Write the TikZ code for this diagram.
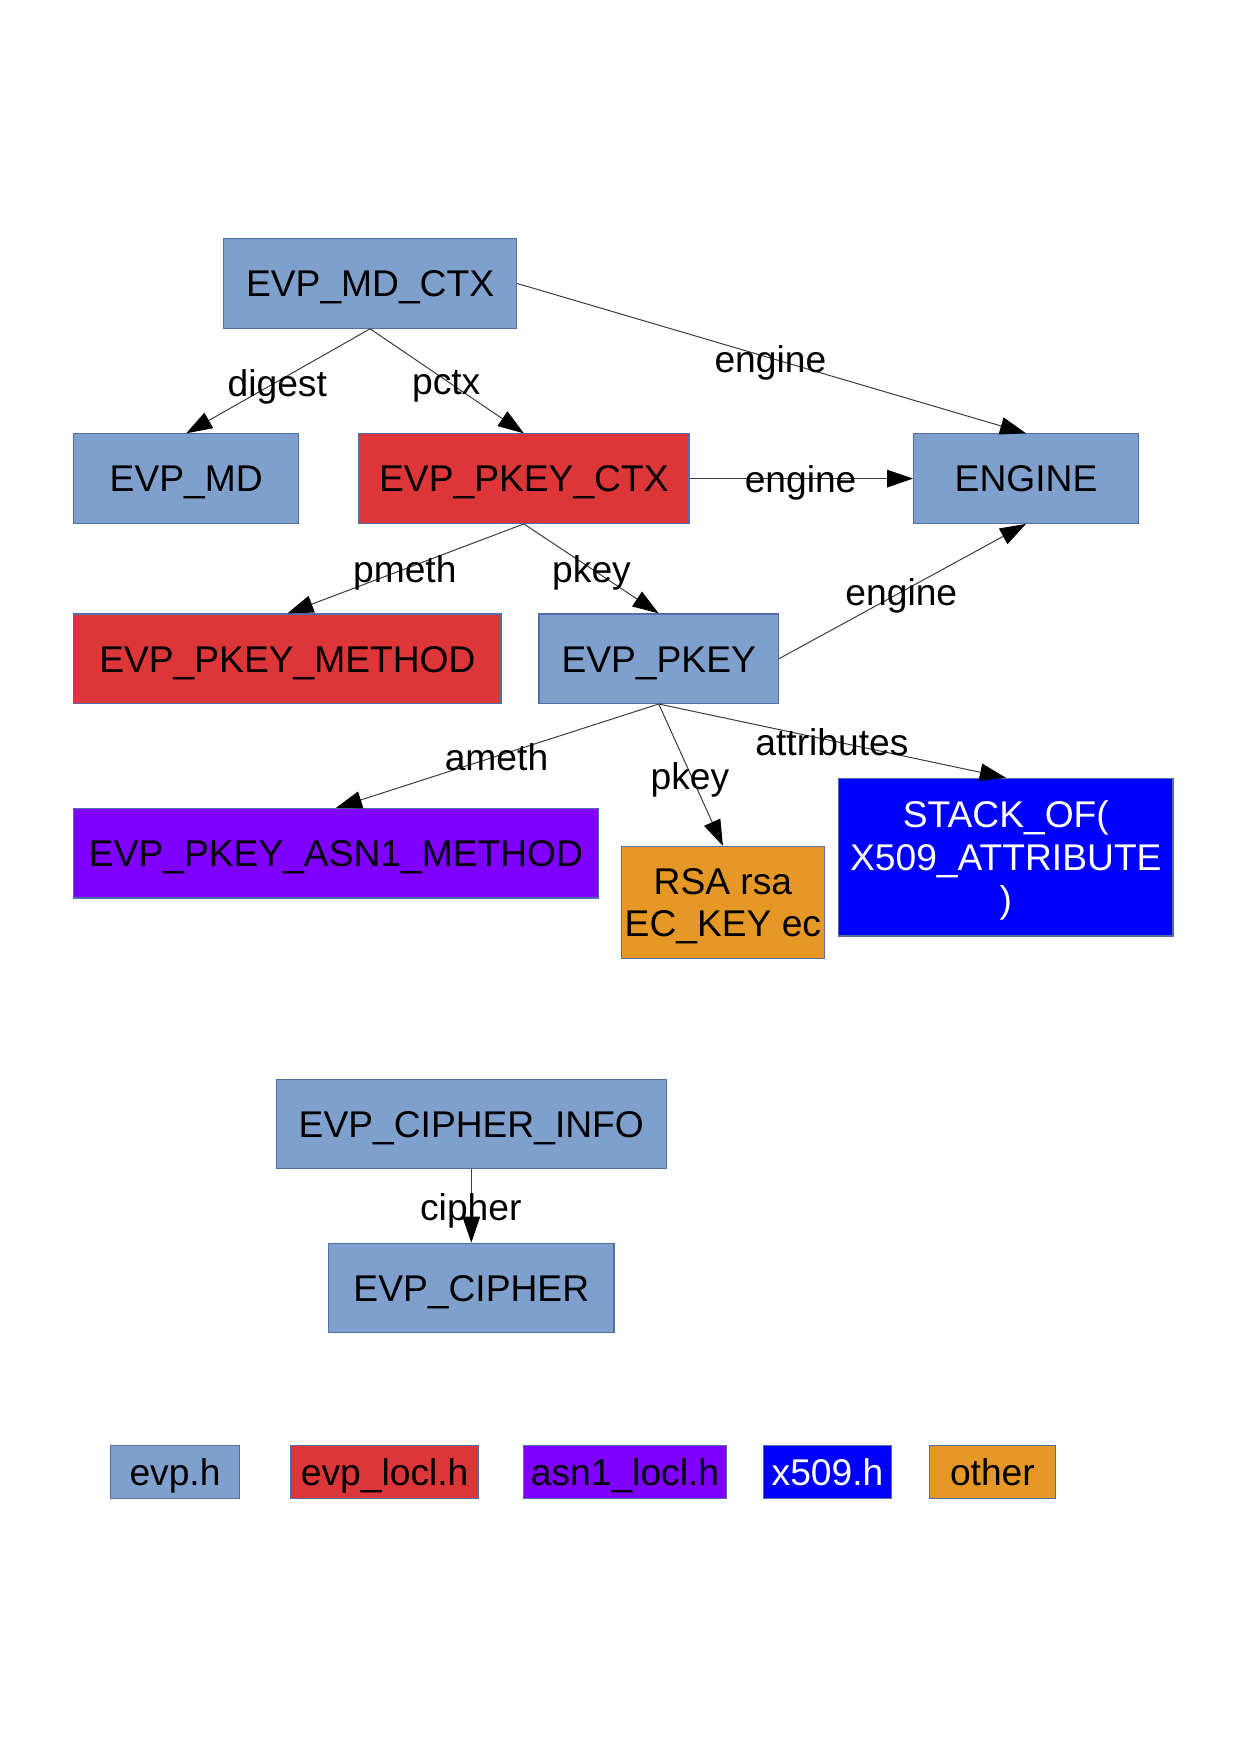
\documentclass[tikz,border=0pt]{standalone}
\usepackage{fontspec}
\setmainfont{Liberation Sans}
\usetikzlibrary{arrows.meta}
\definecolor{cevp}{RGB}{127,159,204}
\definecolor{clocl}{RGB}{220,54,57}
\definecolor{casn}{RGB}{128,0,255}
\definecolor{cx509}{RGB}{0,0,255}
\definecolor{cother}{RGB}{230,152,38}
\definecolor{cborder}{RGB}{82,110,170}
\definecolor{cedge}{RGB}{60,60,60}
\begin{document}
\begin{tikzpicture}[x=0.5pt,y=-0.5pt,
  every node/.style={font=\fontsize{18.6}{21.25}\selectfont, inner sep=0pt},
  box/.style={draw=cborder, line width=0.6pt, align=center, minimum height=44.7pt, text height=13.3pt, text depth=0pt},
  evp/.style={box, fill=cevp},
  locl/.style={box, fill=clocl},
  asn/.style={box, fill=casn},
  xfive/.style={box, fill=cx509, text=white},
  other/.style={box, fill=cother},
  leg/.style={minimum height=26.3pt},
  conn/.style={draw=cedge, line width=0.5pt, -{Triangle[length=13pt,width=8.8pt,color=black]}},
  lbl/.style={anchor=center, yshift=-2pt}
]
\useasboundingbox (0,0) rectangle (1239,1754);

% nodes
\node[evp, minimum width=146.5pt] (mdctx) at (370.1,283.5) {EVP\_MD\_CTX};
\node[evp, minimum width=112.4pt] (md) at (186.2,478.6) {EVP\_MD};
\node[locl, minimum width=165pt] (pctx) at (523.9,478.6) {EVP\_PKEY\_CTX};
\node[evp, minimum width=112.4pt] (engine) at (1026,478.6) {ENGINE};
\node[locl, minimum width=213.6pt] (pmeth) at (287.4,658.7) {EVP\_PKEY\_METHOD};
\node[evp, minimum width=119.7pt] (pkey) at (658.7,658.7) {EVP\_PKEY};
\node[asn, minimum width=262.2pt] (ameth) at (336,853.2) {EVP\_PKEY\_ASN1\_METHOD};
\node[other, minimum width=101.2pt, minimum height=55.9pt, text height=34.55pt] (rsa) at (722.9,902.4) {RSA rsa\\EC\_KEY ec};
\node[xfive, minimum width=167.2pt, minimum height=78.8pt, text height=55.8pt] (stack) at (1005.8,857.1) {STACK\_OF(\\X509\_ATTRIBUTE\\)};
\node[evp, minimum width=195.1pt] (cinfo) at (471.3,1123.8) {EVP\_CIPHER\_INFO};
\node[evp, minimum width=142.6pt] (cipher) at (471.3,1288) {EVP\_CIPHER};

% legend
\node[evp, leg, minimum width=64.3pt] (lg1) at (175,1472.1) {evp.h};
\node[locl, leg, minimum width=94pt] (lg2) at (384.7,1472.1) {evp\_locl.h};
\node[asn, leg, minimum width=101.8pt] (lg3) at (625,1472.1) {asn1\_locl.h};
\node[xfive, leg, minimum width=63.8pt] (lg4) at (827.5,1472.1) {x509.h};
\node[other, leg, minimum width=63.2pt] (lg5) at (992.4,1472.1) {other};

% connectors
\draw[conn] (mdctx.south) -- (md.north);
\draw[conn] (mdctx.south) -- (pctx.north);
\draw[conn] (mdctx.east) -- (engine.north);
\draw[conn] (pctx.east) -- (engine.west);
\draw[conn] (pctx.south) -- (pmeth.north);
\draw[conn] (pctx.south) -- (pkey.north);
\draw[conn] (pkey.east) -- (engine.south);
\draw[conn] (pkey.south) -- (ameth.north);
\draw[conn] (pkey.south) -- (rsa.north);
\draw[conn] (pkey.south) -- (stack.north);
\draw[conn] (cinfo.south) -- (cipher.north);

% labels
\node[lbl] (l1) at (277.3,382.4) {digest};
\node[lbl] (l2) at (446.2,382.4) {pctx};
\node[lbl] (l3) at (770.4,358.9) {engine};
\node[lbl] (l4) at (800.6,478.6) {engine};
\node[lbl] (l5) at (404.8,569.2) {pmeth};
\node[lbl] (l6) at (591.5,569.2) {pkey};
\node[lbl] (l7) at (901.3,591.5) {engine};
\node[lbl] (l8) at (496.5,753.5) {ameth};
\node[lbl] (l9) at (689.9,776.0) {pkey};
\node[lbl] (l10) at (831.9,738.0) {attributes};
\node[lbl] (l11) at (470.8,1206.4) {cipher};
\end{tikzpicture}
\end{document}
